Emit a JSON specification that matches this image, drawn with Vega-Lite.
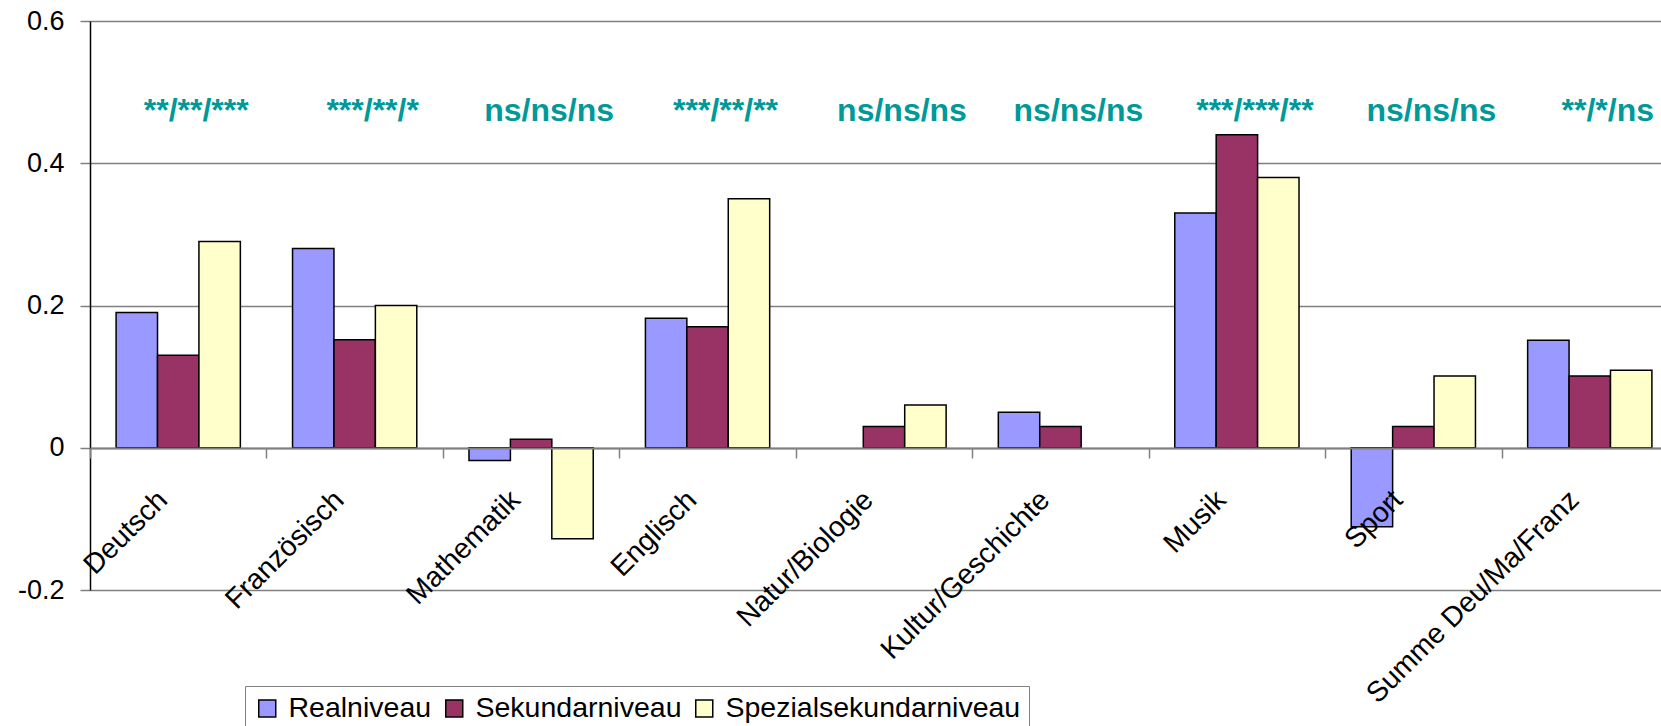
{
  "$schema": "https://vega.github.io/schema/vega-lite/v6.json",
  "width": 1571,
  "height": 569,
  "autosize": {"type": "none"},
  "padding": {"left": 90, "top": 21, "right": 0, "bottom": 136},
  "background": "white",
  "config": {"view": {"stroke": null}, "font": "Liberation Sans"},
  "datasets": {
    "bars": [
      {"Fach": "Deutsch", "Niveau": "Realniveau", "Wert": 0.19},
      {"Fach": "Deutsch", "Niveau": "Sekundarniveau", "Wert": 0.13},
      {"Fach": "Deutsch", "Niveau": "Spezialsekundarniveau", "Wert": 0.29},
      {"Fach": "Französisch", "Niveau": "Realniveau", "Wert": 0.28},
      {"Fach": "Französisch", "Niveau": "Sekundarniveau", "Wert": 0.152},
      {"Fach": "Französisch", "Niveau": "Spezialsekundarniveau", "Wert": 0.2},
      {"Fach": "Mathematik", "Niveau": "Realniveau", "Wert": -0.018},
      {"Fach": "Mathematik", "Niveau": "Sekundarniveau", "Wert": 0.012},
      {"Fach": "Mathematik", "Niveau": "Spezialsekundarniveau", "Wert": -0.128},
      {"Fach": "Englisch", "Niveau": "Realniveau", "Wert": 0.182},
      {"Fach": "Englisch", "Niveau": "Sekundarniveau", "Wert": 0.17},
      {"Fach": "Englisch", "Niveau": "Spezialsekundarniveau", "Wert": 0.35},
      {"Fach": "Natur/Biologie", "Niveau": "Sekundarniveau", "Wert": 0.03},
      {"Fach": "Natur/Biologie", "Niveau": "Spezialsekundarniveau", "Wert": 0.06},
      {"Fach": "Kultur/Geschichte", "Niveau": "Realniveau", "Wert": 0.05},
      {"Fach": "Kultur/Geschichte", "Niveau": "Sekundarniveau", "Wert": 0.03},
      {"Fach": "Musik", "Niveau": "Realniveau", "Wert": 0.33},
      {"Fach": "Musik", "Niveau": "Sekundarniveau", "Wert": 0.44},
      {"Fach": "Musik", "Niveau": "Spezialsekundarniveau", "Wert": 0.38},
      {"Fach": "Sport", "Niveau": "Realniveau", "Wert": -0.111},
      {"Fach": "Sport", "Niveau": "Sekundarniveau", "Wert": 0.03},
      {"Fach": "Sport", "Niveau": "Spezialsekundarniveau", "Wert": 0.101},
      {"Fach": "Summe Deu/Ma/Franz", "Niveau": "Realniveau", "Wert": 0.151},
      {"Fach": "Summe Deu/Ma/Franz", "Niveau": "Sekundarniveau", "Wert": 0.101},
      {"Fach": "Summe Deu/Ma/Franz", "Niveau": "Spezialsekundarniveau", "Wert": 0.109}
    ],
    "sig": [
      {"Fach": "Deutsch", "Sig": "**/**/***"},
      {"Fach": "Französisch", "Sig": "***/**/*"},
      {"Fach": "Mathematik", "Sig": "ns/ns/ns"},
      {"Fach": "Englisch", "Sig": "***/**/**"},
      {"Fach": "Natur/Biologie", "Sig": "ns/ns/ns"},
      {"Fach": "Kultur/Geschichte", "Sig": "ns/ns/ns"},
      {"Fach": "Musik", "Sig": "***/***/**"},
      {"Fach": "Sport", "Sig": "ns/ns/ns"},
      {"Fach": "Summe Deu/Ma/Franz", "Sig": "**/*/ns"}
    ]
  },
  "layer": [
    {
      "data": {"name": "bars"},
      "mark": {"type": "bar", "stroke": "black", "strokeWidth": 1.5},
      "encoding": {
        "x": {
          "field": "Fach",
          "type": "nominal",
          "scale": {
            "domain": ["Deutsch", "Französisch", "Mathematik", "Englisch", "Natur/Biologie", "Kultur/Geschichte", "Musik", "Sport", "Summe Deu/Ma/Franz"],
            "paddingInner": 0,
            "paddingOuter": 0,
            "range": [0, 1588]
          },
          "axis": {
            "title": null,
            "orient": "bottom",
            "offset": -142,
            "zindex": 1,
            "domainColor": "#808080",
            "domainWidth": 2,
            "ticks": true,
            "tickBand": "extent",
            "tickSize": 10,
            "tickColor": "#808080",
            "tickWidth": 1.5,
            "labelAngle": -45,
            "labelAlign": "right",
            "labelBaseline": "top",
            "labelOffset": -26,
            "labelPadding": 27,
            "labelFontSize": 28.5,
            "labelFont": "Liberation Sans",
            "labelColor": "black",
            "labelOverlap": false,
            "labelFlush": false,
            "labelLimit": 500,
            "grid": false
          }
        },
        "xOffset": {
          "field": "Niveau",
          "type": "nominal",
          "scale": {
            "domain": ["Realniveau", "Sekundarniveau", "Spezialsekundarniveau"],
            "paddingInner": 0,
            "paddingOuter": 0.63
          }
        },
        "y": {
          "field": "Wert",
          "type": "quantitative",
          "scale": {"domain": [-0.2, 0.6], "nice": false, "zero": true},
          "axis": {
            "title": null,
            "values": [-0.2, 0, 0.2, 0.4, 0.6],
            "labelExpr": "'' + datum.value",
            "labelFontSize": 27,
            "labelFont": "Liberation Sans",
            "labelColor": "black",
            "labelPadding": 16,
            "tickSize": 10,
            "tickColor": "#808080",
            "tickWidth": 1.5,
            "domainColor": "black",
            "domainWidth": 1.5,
            "grid": true,
            "gridColor": "#808080",
            "gridWidth": 1.5
          }
        },
        "color": {
          "field": "Niveau",
          "type": "nominal",
          "scale": {
            "domain": ["Realniveau", "Sekundarniveau", "Spezialsekundarniveau"],
            "range": ["#9999FF", "#993366", "#FFFFCC"]
          },
          "legend": {
            "title": null,
            "orient": "none",
            "legendX": 155,
            "legendY": 665,
            "direction": "horizontal",
            "fillColor": "white",
            "strokeColor": "#808080",
            "padding": 8,
            "symbolType": "square",
            "symbolSize": 289,
            "symbolStrokeColor": "black",
            "symbolStrokeWidth": 1.5,
            "labelFontSize": 28.5,
            "labelFont": "Liberation Sans",
            "labelColor": "black",
            "labelLimit": 500,
            "labelOffset": 7,
            "columnPadding": 8
          }
        }
      }
    },
    {
      "data": {"name": "sig"},
      "mark": {"type": "text", "color": "#009999", "fontSize": 32, "fontWeight": "bold", "font": "Liberation Sans", "dx": 18},
      "encoding": {
        "x": {"field": "Fach", "type": "nominal"},
        "y": {"datum": 0.473},
        "text": {"field": "Sig"}
      }
    }
  ]
}
